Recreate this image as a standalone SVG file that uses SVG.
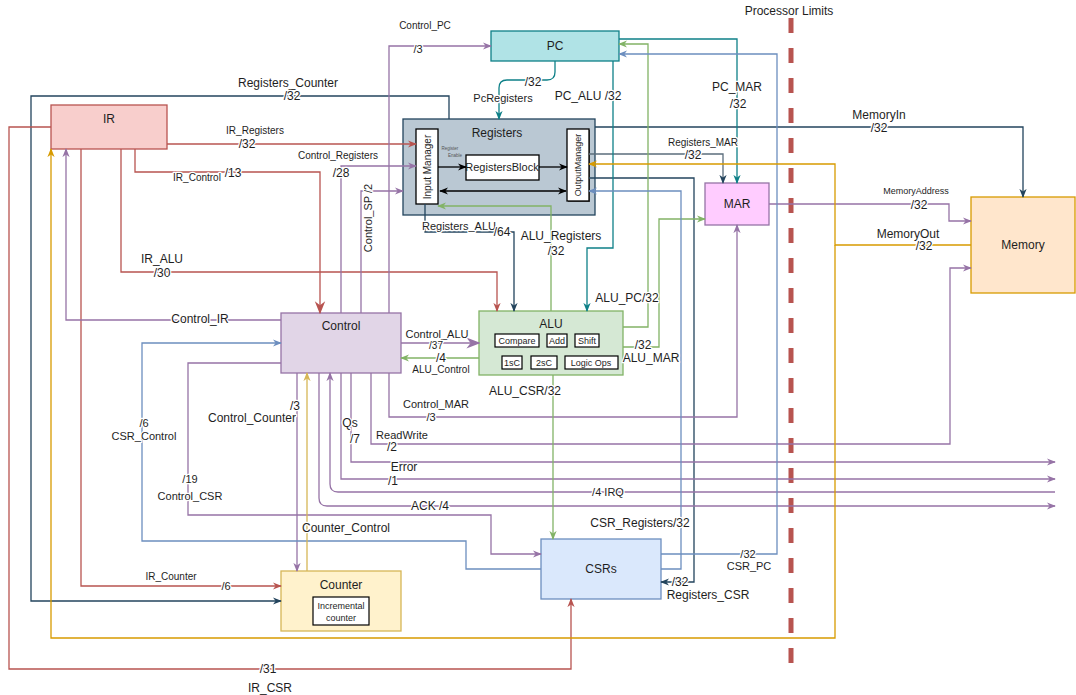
<svg xmlns="http://www.w3.org/2000/svg" width="1076" height="695" viewBox="0 0 1076 695">
<style>
text{font-family:"Liberation Sans",Arial,sans-serif;fill:#1e1e1e;text-anchor:middle}
.el{stroke:#fff;stroke-width:2.5;paint-order:stroke;stroke-linejoin:round}
.f12{font-size:12px}.f11{font-size:11px}.f10{font-size:10px}.f9{font-size:9px}
.c path{fill:none;stroke-width:1.3}
.dk{stroke:#23445d}.rd{stroke:#b85450}.pu{stroke:#9673a6}.tl{stroke:#0e8088}.gr{stroke:#82b366}.bl{stroke:#6c8ebf}.ye{stroke:#d79b00}.go{stroke:#d6b656}.bk{stroke:#000}
.dk{marker-end:url(#mdk)}.rd{marker-end:url(#mrd)}.pu{marker-end:url(#mpu)}.tl{marker-end:url(#mtl)}.gr{marker-end:url(#mgr)}.bl{marker-end:url(#mbl)}.ye{marker-end:url(#mye)}.go{marker-end:url(#mgo)}.bk{marker-end:url(#mbk)}
</style>
<defs>
<marker id="mdk" viewBox="0 0 10 10" refX="9" refY="5" markerWidth="9" markerHeight="9" orient="auto" markerUnits="userSpaceOnUse"><path d="M0,1 L10,5 L0,9 L3,5z" fill="#23445d"/></marker>
<marker id="mrd" viewBox="0 0 10 10" refX="9" refY="5" markerWidth="9" markerHeight="9" orient="auto" markerUnits="userSpaceOnUse"><path d="M0,1 L10,5 L0,9 L3,5z" fill="#b85450"/></marker>
<marker id="mrdb" viewBox="0 0 10 10" refX="9" refY="5" markerWidth="13" markerHeight="13" orient="auto" markerUnits="userSpaceOnUse"><path d="M0,1 L10,5 L0,9 L3,5z" fill="#b85450"/></marker>
<marker id="mpu" viewBox="0 0 10 10" refX="9" refY="5" markerWidth="9" markerHeight="9" orient="auto" markerUnits="userSpaceOnUse"><path d="M0,1 L10,5 L0,9 L3,5z" fill="#9673a6"/></marker>
<marker id="mpub" viewBox="0 0 10 10" refX="9" refY="5" markerWidth="14" markerHeight="14" orient="auto" markerUnits="userSpaceOnUse"><path d="M0,1 L10,5 L0,9 L3,5z" fill="#9673a6"/></marker>
<marker id="mtl" viewBox="0 0 10 10" refX="9" refY="5" markerWidth="9" markerHeight="9" orient="auto" markerUnits="userSpaceOnUse"><path d="M0,1 L10,5 L0,9 L3,5z" fill="#0e8088"/></marker>
<marker id="mgr" viewBox="0 0 10 10" refX="9" refY="5" markerWidth="9" markerHeight="9" orient="auto" markerUnits="userSpaceOnUse"><path d="M0,1 L10,5 L0,9 L3,5z" fill="#82b366"/></marker>
<marker id="mbl" viewBox="0 0 10 10" refX="9" refY="5" markerWidth="9" markerHeight="9" orient="auto" markerUnits="userSpaceOnUse"><path d="M0,1 L10,5 L0,9 L3,5z" fill="#6c8ebf"/></marker>
<marker id="mye" viewBox="0 0 10 10" refX="9" refY="5" markerWidth="9" markerHeight="9" orient="auto" markerUnits="userSpaceOnUse"><path d="M0,1 L10,5 L0,9 L3,5z" fill="#d79b00"/></marker>
<marker id="mgo" viewBox="0 0 10 10" refX="9" refY="5" markerWidth="9" markerHeight="9" orient="auto" markerUnits="userSpaceOnUse"><path d="M0,1 L10,5 L0,9 L3,5z" fill="#d6b656"/></marker>
<marker id="mbk" viewBox="0 0 10 10" refX="9" refY="5" markerWidth="9" markerHeight="9" orient="auto" markerUnits="userSpaceOnUse"><path d="M0,1 L10,5 L0,9 L3,5z" fill="#000"/></marker>
<marker id="mbks" viewBox="0 0 10 10" refX="1" refY="5" markerWidth="9" markerHeight="9" orient="auto" markerUnits="userSpaceOnUse"><path d="M10,1 L0,5 L10,9 L7,5z" fill="#000"/></marker>
</defs>
<rect width="1076" height="695" fill="#fff"/>

<g id="processor-limits">
<path d="M791,18 V663" stroke="#b85450" stroke-width="5" stroke-dasharray="15 15" fill="none"/>
<text x="789" y="15" class="f12">Processor Limits</text>
</g>

<g id="IR"><rect x="51" y="105" width="116" height="44" fill="#f8cecc" stroke="#b85450" stroke-width="1.3"/><text x="109" y="123" class="f12">IR</text></g>
<g id="PC"><rect x="491" y="31" width="128" height="30" fill="#b0e3e6" stroke="#0e8088" stroke-width="1.3"/><text x="555" y="50" class="f12">PC</text></g>
<g id="Registers">
<rect x="403" y="119" width="192" height="96" fill="#bac8d3" stroke="#23445d" stroke-width="1.3"/>
<text x="497" y="137" class="f12">Registers</text>
<rect x="416" y="129" width="22" height="75" fill="#fff" stroke="#000" stroke-width="1.3"/>
<text transform="translate(431,167) rotate(-90)" class="f10">Input Manager</text>
<rect x="568" y="130" width="22" height="72" fill="#555" stroke="none"/>
<rect x="567" y="129" width="22" height="72" fill="#fff" stroke="#000" stroke-width="1.3"/>
<text transform="translate(581,165) rotate(-90)" class="f9">OutputManager</text>
<rect x="466" y="155" width="73" height="25" fill="#fff" stroke="#000" stroke-width="1.3"/>
<text x="502" y="171" class="f11">RegistersBlock</text>
<text x="450" y="150" style="font-size:4.5px;fill:#555">Register</text>
<text x="455" y="157" style="font-size:4.5px;fill:#555">Enable</text>
<path d="M438,167 H466" class="bk" fill="none" stroke-width="1.3"/>
<path d="M539,167 H567" class="bk" fill="none" stroke-width="1.3"/>
<path d="M440,191 H566" class="bk" fill="none" stroke-width="1.3" marker-start="url(#mbks)"/>
</g>
<g id="MAR"><rect x="705" y="183" width="64" height="42" fill="#ffccff" stroke="#9673a6" stroke-width="1.3"/><text x="737" y="208" class="f12">MAR</text></g>
<g id="Memory"><rect x="971" y="197" width="104" height="96" fill="#ffe6cc" stroke="#d79b00" stroke-width="1.3"/><text x="1023" y="249" class="f12">Memory</text></g>
<g id="Control"><rect x="281" y="313" width="120" height="60" fill="#e1d5e7" stroke="#9673a6" stroke-width="1.3"/><text x="341" y="330" class="f12">Control</text></g>
<g id="ALU">
<rect x="479" y="311" width="144" height="64" fill="#d5e8d4" stroke="#82b366" stroke-width="1.3"/>
<text x="551" y="328" class="f12">ALU</text>
<rect x="495" y="334" width="44" height="13" fill="#fff" stroke="#000" stroke-width="1.2"/><text x="517" y="344" class="f9">Compare</text>
<rect x="547" y="334" width="20" height="13" fill="#fff" stroke="#000" stroke-width="1.2"/><text x="557" y="344" class="f9">Add</text>
<rect x="575" y="334" width="24" height="13" fill="#fff" stroke="#000" stroke-width="1.2"/><text x="587" y="344" class="f9">Shift</text>
<rect x="502" y="356" width="20" height="13" fill="#fff" stroke="#000" stroke-width="1.2"/><text x="512" y="366" class="f9">1sC</text>
<rect x="531" y="356" width="26" height="13" fill="#fff" stroke="#000" stroke-width="1.2"/><text x="544" y="366" class="f9">2sC</text>
<rect x="565" y="356" width="53" height="13" fill="#fff" stroke="#000" stroke-width="1.2"/><text x="591" y="366" class="f9">Logic Ops</text>
</g>
<g id="Counter">
<rect x="281" y="571" width="120" height="60" fill="#fff2cc" stroke="#d6b656" stroke-width="1.3"/>
<text x="341" y="589" class="f12">Counter</text>
<rect x="313" y="597" width="56" height="28" fill="#fff" stroke="#000" stroke-width="1.2"/>
<text x="341" y="609" class="f9">Incremental</text><text x="341" y="621" class="f9">counter</text>
</g>
<g id="CSRs"><rect x="541" y="539" width="120" height="60" fill="#dae8fc" stroke="#6c8ebf" stroke-width="1.3"/><text x="601" y="573" class="f12">CSRs</text></g>

<g id="connectors" class="c">
<path class="dk" d="M449,119 V96 H31 V601 H281"/>
<path class="dk" d="M595,127 H1023 V197"/>
<path class="dk" d="M589,154 H723 V183" style="stroke:#5b6d7c"/>
<path class="dk" d="M589,178 H694 V582 H661"/>
<path class="dk" d="M425,204 V232 H514 V311"/>
<path class="rd" d="M167,144 H416"/>
<path class="rd" d="M135,149 V172 H320 V313" style="marker-end:url(#mrdb)"/>
<path class="rd" d="M121,149 V272 H497 V311"/>
<path class="rd" d="M81,149 V586 H281"/>
<path class="rd" d="M51,127 H9 V669 H571 V599"/>
<path class="pu" d="M281,320 H66 V149"/>
<path class="pu" d="M281,363 H188 V515 H491 V554 H541"/>
<path class="pu" d="M389,313 V46 H491"/>
<path class="pu" d="M341,313 V166 H416"/>
<path class="pu" d="M361,313 V191 H403"/>
<path class="pu" d="M401,343 H479" style="marker-end:url(#mpub)"/>
<path class="pu" d="M297,373 V571"/>
<path class="pu" d="M389,373 V417 H737 V225"/>
<path class="pu" d="M371,373 V444 H950 V268 H971"/>
<path class="pu" d="M351,373 V462 H1055"/>
<path class="pu" d="M341,373 V479 H1055"/>
<path class="pu" d="M1055,492 H338 Q330,492 330,484 V373"/>
<path class="pu" d="M319,373 V498 Q319,506 327,506 H1055"/>
<path class="pu" d="M769,204 H949 V221 H971"/>
<path class="tl" d="M555,61 V72 Q555,80 547,80 H507 Q499,80 499,88 V119"/>
<path class="tl" d="M613,61 V248 H587 V311"/>
<path class="tl" d="M619,39 H737 V183"/>
<path class="gr" d="M623,327 H648 V44 H619"/>
<path class="gr" d="M623,347 H659 V219 H705"/>
<path class="gr" d="M551,311 V206 H438"/>
<path class="gr" d="M553,375 V539"/>
<path class="gr" d="M479,358 H401"/>
<path class="bl" d="M541,569 H466 V541 H142 V343 H281"/>
<path class="bl" d="M661,554 H777 V54 H619"/>
<path class="bl" d="M661,569 H681 V191 H589"/>
<path class="ye" d="M971,245 H835 V164 H589"/>
<path class="ye" d="M835,245 V638 H51 V149"/>
<path class="go" d="M307,571 V373"/>
</g>

<g id="labels">
<text x="288" y="87" class="f12 el">Registers_Counter</text>
<text x="292" y="100" class="f12 el">/32</text>
<text x="255" y="134" class="f10 el">IR_Registers</text>
<text x="247" y="148" class="f12 el">/32</text>
<text x="338" y="159" class="f10 el">Control_Registers</text>
<text x="341" y="177" class="f12 el">/28</text>
<text x="197" y="181" class="f10 el">IR_Control</text>
<text x="233" y="177" class="f12 el">/13</text>
<text x="425" y="29" class="f10 el">Control_PC</text>
<text x="418" y="53" class="f11 el">/3</text>
<text x="533" y="86" class="f12 el">/32</text>
<text x="503" y="102" class="f11 el">PcRegisters</text>
<text x="588" y="100" class="f12 el">PC_ALU /32</text>
<text x="737" y="91" class="f12 el">PC_MAR</text>
<text x="738" y="108" class="f12 el">/32</text>
<text x="879" y="119" class="f12 el">MemoryIn</text>
<text x="879" y="132" class="f12 el">/32</text>
<text x="703" y="146" class="f10 el">Registers_MAR</text>
<text x="693" y="159" class="f12 el">/32</text>
<text x="916" y="194" class="f9 el">MemoryAddress</text>
<text x="919" y="209" class="f12 el">/32</text>
<text x="908" y="238" class="f12 el">MemoryOut</text>
<text x="924" y="250" class="f12 el">/32</text>
<text transform="translate(372,218) rotate(-90)" class="f11 el">Control_SP /2</text>
<text x="459" y="230" class="f11 el">Registers_ALU</text>
<text x="502" y="236" class="f12 el">/64</text>
<text x="561" y="240" class="f12 el">ALU_Registers</text>
<text x="556" y="255" class="f12 el">/32</text>
<text x="162" y="263" class="f12 el">IR_ALU</text>
<text x="162" y="277" class="f12 el">/30</text>
<text x="627" y="302" class="f12 el">ALU_PC/32</text>
<text x="200" y="323" class="f12 el">Control_IR</text>
<text x="437" y="338" class="f11 el">Control_ALU</text>
<text x="436" y="349" class="f10 el">/37</text>
<text x="441" y="362" class="f12 el">/4</text>
<text x="441" y="373" class="f10 el">ALU_Control</text>
<text x="643" y="349" class="f12 el">/32</text>
<text x="651" y="362" class="f12 el">ALU_MAR</text>
<text x="525" y="395" class="f12 el">ALU_CSR/32</text>
<text x="295" y="410" class="f12 el">/3</text>
<text x="252" y="422" class="f12 el">Control_Counter</text>
<text x="144" y="427" class="f11 el">/6</text>
<text x="144" y="440" class="f11 el">CSR_Control</text>
<text x="436" y="408" class="f11 el">Control_MAR</text>
<text x="431" y="421" class="f11 el">/3</text>
<text x="350" y="427" class="f12 el">Qs</text>
<text x="355" y="443" class="f12 el">/7</text>
<text x="402" y="439" class="f11 el">ReadWrite</text>
<text x="392" y="451" class="f12 el">/2</text>
<text x="404" y="471" class="f12 el">Error</text>
<text x="393" y="485" class="f12 el">/1</text>
<text x="190" y="483" class="f11 el">/19</text>
<text x="190" y="500" class="f11 el">Control_CSR</text>
<text x="608" y="496" class="f11 el">/4  IRQ</text>
<text x="430" y="510" class="f12 el">ACK  /4</text>
<text x="640" y="527" class="f12 el">CSR_Registers/32</text>
<text x="346" y="532" class="f12 el">Counter_Control</text>
<text x="748" y="558" class="f11 el">/32</text>
<text x="749" y="570" class="f11 el">CSR_PC</text>
<text x="171" y="580" class="f10 el">IR_Counter</text>
<text x="226" y="590" class="f11 el">/6</text>
<text x="680" y="586" class="f12 el">/32</text>
<text x="708" y="599" class="f12 el">Registers_CSR</text>
<text x="268" y="673" class="f12 el">/31</text>
<text x="270" y="692" class="f12 el">IR_CSR</text>
</g>
</svg>
